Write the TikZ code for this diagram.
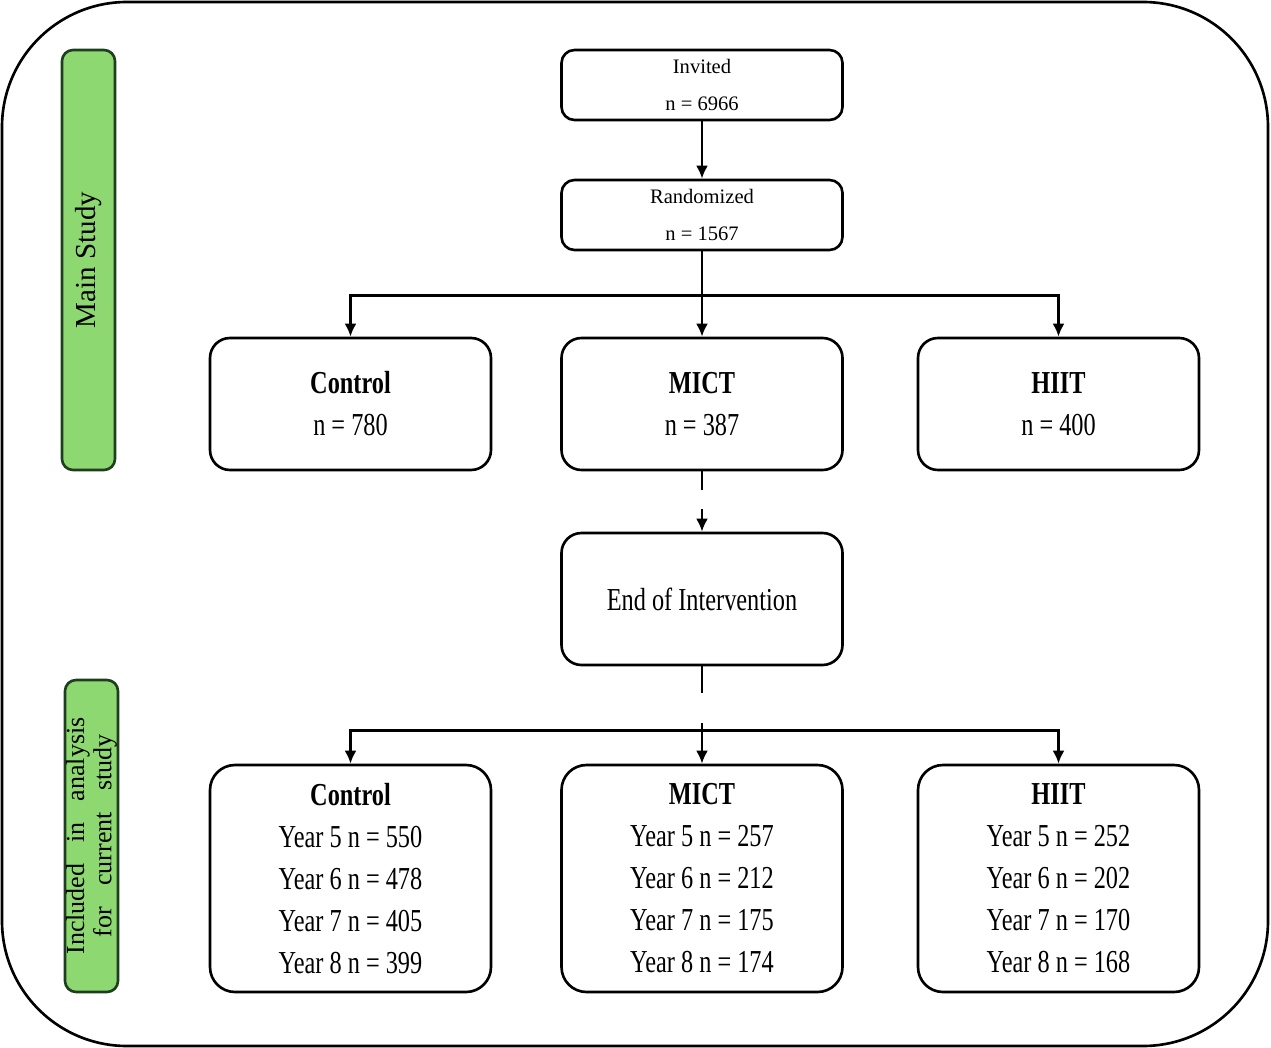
\documentclass[tikz,border=0pt]{standalone}
\usepackage{fontspec}
\setmainfont{Liberation Serif}
\newfontfamily\narrowserif{Liberation Serif}[FakeStretch=0.76]
\usepackage{xcolor}
\usetikzlibrary{positioning,arrows.meta}
\definecolor{stagegreen}{HTML}{8DD870}
\definecolor{stageedge}{HTML}{1F3D1F}

\begin{document}
\begin{tikzpicture}[>={Latex[length=0.26cm,width=0.24cm]},line width=1.5pt,node distance=2cm,on grid,
  small/.style={draw,rounded corners=0.26cm,minimum width=5.62cm,minimum height=1.4cm,align=center,
    font=\fontsize{11.7}{21}\selectfont},
  grp/.style={draw,rounded corners=0.4cm,minimum width=5.62cm,minimum height=2.64cm,align=center,
    font=\narrowserif\fontsize{18.2}{23.9}\selectfont},
  yrs/.style={grp,rounded corners=0.5cm,minimum height=4.54cm},
  stage/.style={draw=stageedge,fill=stagegreen,rounded corners=0.22cm,minimum height=1.06cm,
    inner sep=0pt,rotate=90,align=center}]
\useasboundingbox (0,0) rectangle (25.42,-20.96);
\draw[rounded corners=2.5cm] (0.04,-0.04) rectangle (25.36,-20.92);

% side labels
\node[stage,minimum width=8.4cm,font=\fontsize{16.5}{18}\selectfont] (ms) at (1.77,-5.2) {Main Study};
\node[stage,minimum width=6.24cm,font=\fontsize{14.8}{15.6}\selectfont] (inc) at (1.83,-16.72)
  {\makebox[4.74cm][s]{Included in analysis}\\\makebox[4.06cm][s]{for current study}};

% main study
\node[small] (inv) at (14.04,-1.70) {Invited\\n = 6966};
\node[small,below=2.6cm of inv] (rnd) {Randomized\\n = 1567};
\node[grp,below=3.78cm of rnd] (mict) {\textbf{MICT}\\n = 387};
\node[grp,left=7.03cm of mict] (ctrl) {\textbf{Control}\\n = 780};
\node[grp,right=7.13cm of mict] (hiit) {\textbf{HIIT}\\n = 400};
\node[grp,below=3.9cm of mict] (eoi) {End of Intervention};

% current study
\node[yrs,below=5.59cm of eoi] (mict2) {\textbf{MICT}\\Year 5 n = 257\\Year 6 n = 212\\Year 7 n = 175\\Year 8 n = 174};
\node[yrs,left=7.03cm of mict2] (ctrl2) {\textbf{Control}\\Year 5 n = 550\\Year 6 n = 478\\Year 7 n = 405\\Year 8 n = 399};
\node[yrs,right=7.13cm of mict2] (hiit2) {\textbf{HIIT}\\Year 5 n = 252\\Year 6 n = 202\\Year 7 n = 170\\Year 8 n = 168};

\draw[->] (inv) -- (rnd);
\coordinate[below=0.88cm of rnd.south] (split1);
\draw (rnd) -- (split1);
\draw[->] (split1) -| (ctrl);
\draw[->] (split1) -| (hiit);
\draw[->] (split1) -- (mict);

\draw[->,dash pattern=on 0.38cm off 0.38cm on 2cm] (mict) -- (eoi);
\coordinate[below=1.28cm of eoi.south] (split2);
\draw[dash pattern=on 0.54cm off 0.6cm on 2cm] (eoi) -- (split2);
\draw[->] (split2) -| (ctrl2);
\draw[->] (split2) -| (hiit2);
\draw[->] (split2) -- (mict2);
\end{tikzpicture}
\end{document}
